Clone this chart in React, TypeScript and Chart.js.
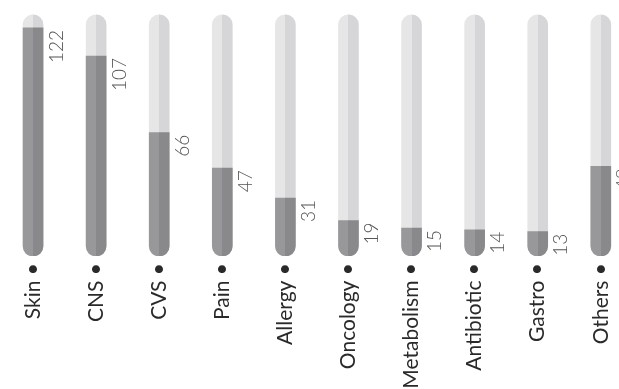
import React, { useEffect, useRef } from "react";
import { Chart, registerables } from "chart.js";

Chart.register(...registerables);

const categories = ["Skin", "CNS", "CVS", "Pain", "Allergy", "Oncology", "Metabolism", "Antibiotic", "Gastro", "Others"];
const counts = [122, 107, 66, 47, 31, 19, 15, 14, 13, 48];
const trackLevels = [129, 129, 129, 129, 129, 129, 129, 129, 129, 129];

const BAR_W = 20;

// Two-tone fill: lighter left half, slightly darker right half
function splitFill(left: string, right: string) {
  return (ctx: any) => {
    const chart = ctx.chart;
    const xs = chart.scales?.x;
    if (!xs || !chart.chartArea || ctx.dataIndex === undefined) return left;
    const cx = xs.getPixelForValue(ctx.dataIndex);
    const g = chart.ctx.createLinearGradient(cx - BAR_W / 2, 0, cx + BAR_W / 2, 0);
    g.addColorStop(0, left);
    g.addColorStop(0.5, left);
    g.addColorStop(0.5, right);
    g.addColorStop(1, right);
    return g;
  };
}

const valueLabels = {
  id: "valueLabels",
  afterDatasetsDraw(chart: any) {
    const meta = chart.getDatasetMeta(0);
    const c = chart.ctx;
    c.save();
    c.font = "300 19px Lato";
    c.fillStyle = "#555555";
    c.textAlign = "right";
    c.textBaseline = "top";
    meta.data.forEach((bar: any, i: number) => {
      c.save();
      c.translate(bar.x + BAR_W / 2 + 4, bar.y + 2);
      c.rotate(-Math.PI / 2);
      c.fillText(String(counts[i]), 0, 0);
      c.restore();
    });
    c.restore();
  },
};

export default function App() {
  const ref = useRef<HTMLCanvasElement>(null);

  useEffect(() => {
    if (!ref.current) return;
    const chart = new Chart(ref.current, {
      type: "bar",
      data: {
        labels: categories.map((c) => c + " •"),
        datasets: [
          {
            data: counts,
            backgroundColor: splitFill("#98989b", "#89898c"),
            barThickness: BAR_W,
            borderRadius: { topLeft: 0, topRight: 0, bottomLeft: 10, bottomRight: 10 },
            borderSkipped: false,
            grouped: false,
          },
          {
            data: trackLevels,
            backgroundColor: splitFill("#e6e6e6", "#d6d6d8"),
            barThickness: BAR_W,
            borderRadius: 10,
            borderSkipped: false,
            grouped: false,
          },
        ],
      },
      options: {
        animation: false,
        responsive: false,
        maintainAspectRatio: false,
        layout: { padding: { top: 13, left: 1.5, right: 0, bottom: 0 } },
        plugins: { legend: { display: false }, tooltip: { enabled: false } },
        scales: {
          y: { display: false, min: 0, max: 130 },
          x: {
            grid: { display: false, drawTicks: false },
            border: { display: false },
            ticks: {
              autoSkip: false,
              minRotation: 90,
              maxRotation: 90,
              padding: 7,
              color: "#2a2a2a",
              font: { family: "Lato", size: 21 },
            },
            afterFit: (scale: any) => {
              scale.height = 133;
            },
          },
        },
      },
      plugins: [valueLabels],
    });
    return () => chart.destroy();
  }, []);

  return (
    <div style={{ position: "fixed", left: 0, top: 0, width: 619, height: 389, overflow: "hidden", background: "#fff" }}>
      <canvas ref={ref} width={633} height={389} style={{ display: "block" }} />
    </div>
  );
}
